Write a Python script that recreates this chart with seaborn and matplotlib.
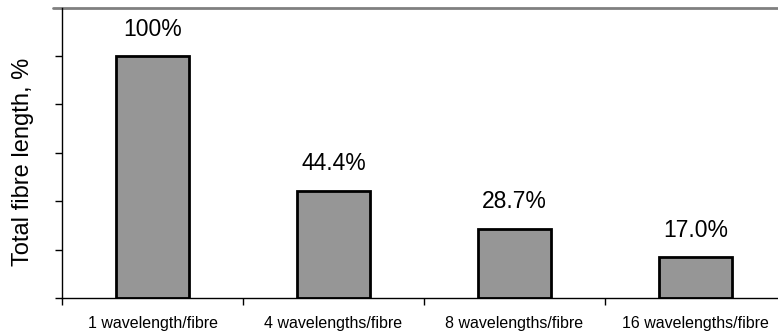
import matplotlib
matplotlib.use("Agg")
import matplotlib.pyplot as plt
import seaborn as sns
import pandas as pd

categories = ["1 wavelength/fibre", "4 wavelengths/fibre",
              "8 wavelengths/fibre", "16 wavelengths/fibre"]
lengths = [100.0, 44.4, 28.7, 17.0]
labels = ["100%", "44.4%", "28.7%", "17.0%"]

sns.set_style("ticks")
plt.rcParams["font.family"] = ["Liberation Sans", "DejaVu Sans"]
plt.rcParams["text.color"] = "black"
plt.rcParams["axes.labelcolor"] = "black"
plt.rcParams["xtick.color"] = "black"
plt.rcParams["ytick.color"] = "black"

df = pd.DataFrame({"config": categories, "length": lengths})

fig = plt.figure(figsize=(7.78, 3.33), dpi=100)
# axes runs slightly off the right edge, like the cropped original
ax = fig.add_axes([62 / 778, 35 / 333, 724 / 778, 290.5 / 333])

sns.barplot(data=df, x="config", y="length", ax=ax, color="#969696",
            width=0.4, edgecolor="black", linewidth=2, saturation=1)

for i, (v, lab) in enumerate(zip(lengths, labels)):
    ax.annotate(lab, (i, v), xytext=(0, 11), textcoords="offset points",
                ha="center", va="bottom", fontsize=16.5, color="black")

ax.set_xlim(-0.5, 3.5)
ax.set_ylim(0, 120)
ax.set_yticks([0, 20, 40, 60, 80, 100])
ax.set_yticklabels([])
ax.tick_params(axis="y", length=5, width=1, color="black", direction="out")

# labels under bar centres, tick marks at category boundaries
ax.set_xticks(range(len(categories)))
ax.set_xticklabels(categories, fontsize=11.5, color="black")
ax.tick_params(axis="x", which="major", length=0, pad=13)
ax.set_xticks([-0.5, 0.5, 1.5, 2.5, 3.5], minor=True)
ax.tick_params(axis="x", which="minor", length=5, width=1, color="black")

ax.set_xlabel("")
ax.set_ylabel("Total fibre length, %", fontsize=17, color="black")
ax.yaxis.set_label_coords(-0.038, 0.47)

for s in ("left", "bottom"):
    ax.spines[s].set_color("black")
    ax.spines[s].set_linewidth(1)
ax.spines["right"].set_visible(False)
ax.spines["top"].set_visible(False)
# gray top border reaching left to the tick marks
ax.plot([-0.012, 1], [1, 1], transform=ax.transAxes, color="#808080",
        linewidth=2, clip_on=False)

fig.savefig("out.png", dpi=100)
